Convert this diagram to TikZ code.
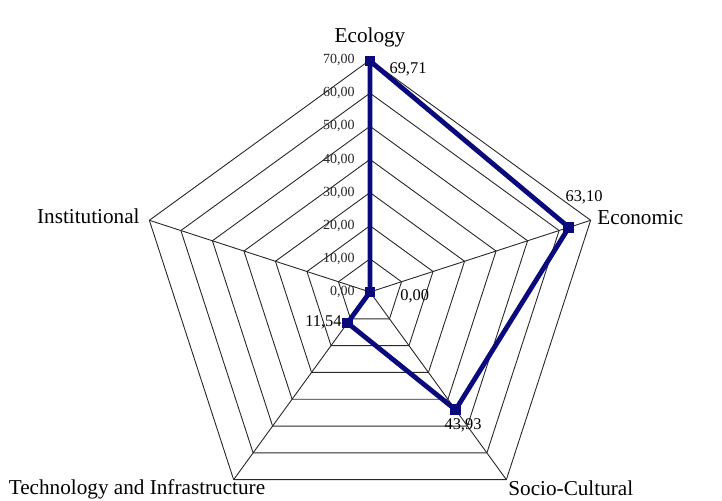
\documentclass[tikz,border=0pt]{standalone}
\usepackage{fontspec}
\setmainfont{Liberation Serif}
\usepackage{tikz}
\definecolor{navyline}{RGB}{10,10,125}
\definecolor{gridgray}{RGB}{40,40,40}

\begin{document}
\begin{tikzpicture}[x=1.6571pt, y=1.6571pt,
    grid/.style={draw=gridgray, line width=0.45pt},
    series/.style={draw=navyline, line width=2.4pt, line join=miter},
    marker/.style={rectangle, fill=navyline, inner sep=0pt, minimum size=5.4pt},
    axislabel/.style={font=\fontsize{10.6}{12}\selectfont, inner sep=0pt},
    vallabel/.style={font=\fontsize{8.2}{10}\selectfont, inner sep=0pt},
    scalelabel/.style={font=\fontsize{7}{8}\selectfont, text=gridgray, inner sep=0pt, anchor=east}]
  \useasboundingbox (-185pt,-104.5pt) rectangle (176pt,146pt);
  \foreach \r in {10,20,...,70}
    \draw[grid] (90:\r) -- (18:\r) -- (-54:\r) -- (-126:\r) -- (162:\r) -- cycle;
  \coordinate (c) at (0,0);
  \coordinate (ax1) at (90:70);
  \coordinate (ax2) at (18:70);
  \coordinate (ax3) at (-54:70);
  \coordinate (ax4) at (-126:70);
  \coordinate (ax5) at (162:70);
  \foreach \a in {ax1,ax2,ax3,ax4,ax5}
    \draw[grid] (c) -- (\a);
  \foreach \v in {0,10,...,70}
    \node[scalelabel] (s\v) at ([xshift=-7.5pt]90:\v) {\v,00};
  \coordinate (eco) at (90:69.71);
  \coordinate (econ) at (18:63.10);
  \coordinate (soc) at (-54:43.93);
  \coordinate (tech) at (-126:11.54);
  \coordinate (inst) at (162:0.001);
  \draw[series] (eco) -- (econ) -- (soc) -- (tech) -- (inst) -- cycle;
  \foreach \p in {eco,econ,soc,tech,inst}
    \node[marker] (m\p) at (\p) {};
  \node[axislabel] (lEco) at (0pt,127.5pt) {Ecology};
  \node[axislabel, anchor=west] (lEcon) at (113.5pt,37pt) {Economic};
  \node[axislabel, anchor=west] (lSoc) at (69pt,-98pt) {Socio-Cultural};
  \node[axislabel] (lTech) at (-116.5pt,-98.5pt) {Technology and Infrastructure};
  \node[axislabel, anchor=east] (lInst) at (-115pt,38pt) {Institutional};
  \node[vallabel] (vEco) at (19pt,111.5pt) {69,71};
  \node[vallabel] (vEcon) at (107pt,47.5pt) {63,10};
  \node[vallabel] (vSoc) at (46.5pt,-66.5pt) {43,93};
  \node[vallabel, anchor=east] (vTech) at (-14pt,-15pt) {11,54};
  \node[vallabel, anchor=west] (vInst) at (15pt,-2pt) {0,00};
\end{tikzpicture}
\end{document}
